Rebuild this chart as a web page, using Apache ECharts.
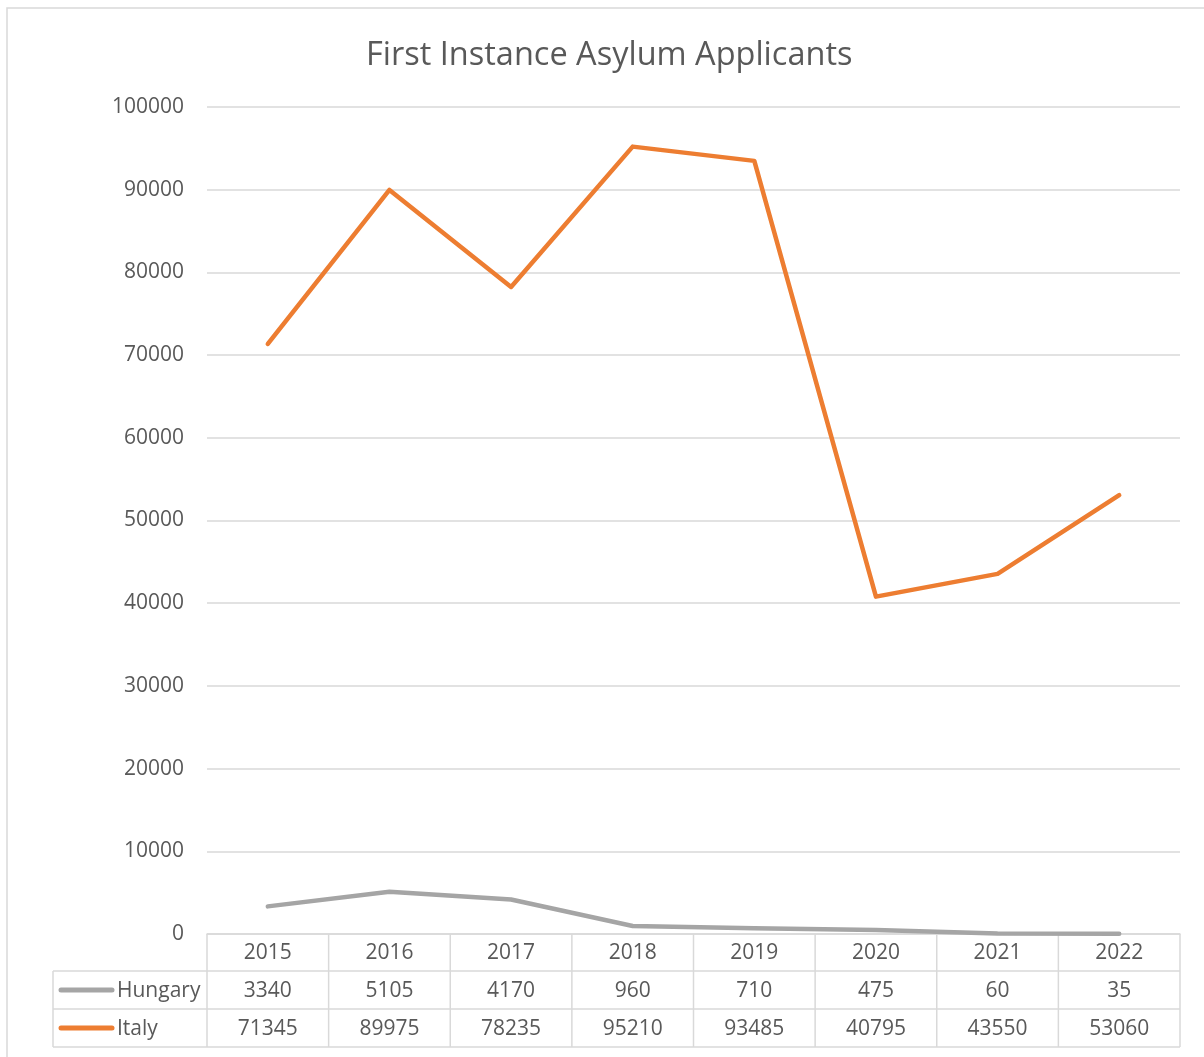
<!DOCTYPE html>
<html>
<head>
<meta charset="utf-8">
<script src="https://cdn.jsdelivr.net/npm/echarts@6/dist/echarts.min.js"></script>
<style>
html,body{margin:0;padding:0;background:#fff;}
#chart{width:1204px;height:1057px;}
</style>
</head>
<body>
<div id="chart"></div>
<script>
var categories = ['2015','2016','2017','2018','2019','2020','2021','2022'];
var hungary = [3340, 5105, 4170, 960, 710, 475, 60, 35];
var italy = [71345, 89975, 78235, 95210, 93485, 40795, 43550, 53060];
var seriesNames = ['Hungary', 'Italy'];
var seriesColors = ['#A5A5A5', '#ED7D31'];
var titleText = 'First Instance Asylum Applicants';

var FONT = 'Open Sans';
var TXT = '#595959';
var LINE = '#D9D9D9';
var gridL = 207, gridR = 1180, gridT = 107, gridB = 934;

var chart = echarts.init(document.getElementById('chart'));
chart.setOption({
  animation: false,
  backgroundColor: '#fff',
  title: {
    text: titleText, left: 361, top: 34,
    textStyle: {fontFamily: FONT, fontSize: 32.5, fontWeight: 'normal', color: TXT}
  },
  grid: {left: gridL, right: 1204 - gridR, top: gridT, bottom: 1057 - gridB},
  xAxis: {
    type: 'category', data: categories, boundaryGap: true,
    axisLine: {show: true, lineStyle: {color: LINE, width: 1.5}},
    axisTick: {show: false}, axisLabel: {show: false}, splitLine: {show: false}
  },
  yAxis: {
    type: 'value', min: 0, max: 100000, interval: 10000,
    axisLine: {show: false}, axisTick: {show: false},
    axisLabel: {fontFamily: FONT, fontSize: 21, color: TXT, margin: 23, lineHeight: 26, padding: [4, 0, 0, 0],
      formatter: function (v) { return String(v); }},
    splitLine: {lineStyle: {color: LINE, width: 1.5}}
  },
  series: [
    {name: seriesNames[0], type: 'line', data: hungary, symbol: 'none',
     lineStyle: {color: seriesColors[0], width: 4.5, cap: 'round', join: 'round'}},
    {name: seriesNames[1], type: 'line', data: italy, symbol: 'none',
     lineStyle: {color: seriesColors[1], width: 4.5, cap: 'round', join: 'round'}}
  ]
});

// Data table built from the arrays, positioned via the axis scale
var rows = [hungary, italy];
var rowY = [gridB, 971, 1009, 1047];
var tableLeft = 53;
var g = [];
// outer chart border
g.push({type: 'rect', shape: {x: 7, y: 8, width: 1230, height: 1100},
  style: {fill: null, stroke: LINE, lineWidth: 1.5}, silent: true});
var half = (chart.convertToPixel({xAxisIndex: 0}, categories[1]) - chart.convertToPixel({xAxisIndex: 0}, categories[0])) / 2;
// horizontal lines
for (var r = 1; r < rowY.length; r++) {
  g.push({type: 'line', shape: {x1: tableLeft, y1: rowY[r], x2: gridR, y2: rowY[r]},
    style: {stroke: LINE, lineWidth: 1.5}, silent: true});
}
// vertical lines
g.push({type: 'line', shape: {x1: tableLeft, y1: rowY[1], x2: tableLeft, y2: rowY[3]},
  style: {stroke: LINE, lineWidth: 1.5}, silent: true});
for (var i = 0; i <= categories.length; i++) {
  var cx = i < categories.length ? chart.convertToPixel({xAxisIndex: 0}, categories[i]) - half
                                 : chart.convertToPixel({xAxisIndex: 0}, categories[i - 1]) + half;
  g.push({type: 'line', shape: {x1: cx, y1: rowY[0], x2: cx, y2: rowY[3]},
    style: {stroke: LINE, lineWidth: 1.5}, silent: true});
}
// cell texts
categories.forEach(function (c, i) {
  var x = chart.convertToPixel({xAxisIndex: 0}, c);
  g.push({type: 'text', x: x, y: (rowY[0] + rowY[1]) / 2 + 1,
    style: {text: c, fontFamily: FONT, fontSize: 21, fill: TXT, textAlign: 'center', textVerticalAlign: 'middle'}, silent: true});
  rows.forEach(function (arr, r) {
    g.push({type: 'text', x: x, y: (rowY[r + 1] + rowY[r + 2]) / 2 + 1,
      style: {text: String(arr[i]), fontFamily: FONT, fontSize: 21, fill: TXT, textAlign: 'center', textVerticalAlign: 'middle'}, silent: true});
  });
});
// legend keys in the table
seriesNames.forEach(function (n, r) {
  var yc = (rowY[r + 1] + rowY[r + 2]) / 2;
  g.push({type: 'line', shape: {x1: 61, y1: yc, x2: 112, y2: yc},
    style: {stroke: seriesColors[r], lineWidth: 5, lineCap: 'round'}, silent: true});
  g.push({type: 'text', x: 117, y: yc + 1,
    style: {text: n, fontFamily: FONT, fontSize: 21, fill: TXT, textAlign: 'left', textVerticalAlign: 'middle'}, silent: true});
});
chart.setOption({graphic: g});
</script>
</body>
</html>
